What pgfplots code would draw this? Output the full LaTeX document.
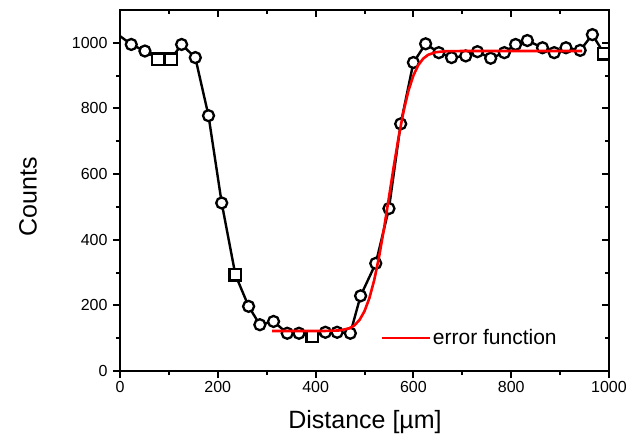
\documentclass[border=0pt]{standalone}
\usepackage{fontspec}
\setmainfont{Liberation Sans}
\usepackage{pgfplots}
\pgfplotsset{compat=1.18}
\begin{document}
\begin{tikzpicture}
\useasboundingbox (-120bp,-65bp) rectangle (519bp,371bp);
\pgfplotsset{
  common/.style={
    scale only axis, width=489bp, height=361bp,
    xmin=0, xmax=1000, ymin=0, ymax=1100,
    xtick={0,200,...,1000}, ytick={0,200,...,1000},
    minor xtick={100,300,...,900}, minor ytick={100,300,...,900},
    major tick length=7bp, minor tick length=4bp,
    tick style={black, line width=2bp},
    axis line style={line width=2.8bp},
    /pgf/number format/assume math mode=true,
    /pgf/number format/1000 sep={},
    tick label style={font=\fontsize{16bp}{19bp}\selectfont},
  }
}
\begin{axis}[common,
  xtick pos=bottom, ytick pos=left, tick align=outside,
  clip marker paths=true,
  yticklabel style={xshift=-2bp},
  xlabel={Distance [µm]}, ylabel={Counts},
  label style={font=\fontsize{25bp}{30bp}\selectfont},
  xlabel style={at={(axis description cs:0.501,-0.14)}, anchor=center},
  ylabel style={at={(axis description cs:-0.188,0.482)}, anchor=center},
  legend style={draw=none, fill=none, at={(axis description cs:0.532,0.0914)}, anchor=west,
    font=\fontsize{21bp}{24bp}\selectfont, inner sep=0pt},
  legend image code/.code={\draw[#1] (0bp,0bp) -- (48bp,0bp);},
]
\addplot[black, line width=2.4bp, forget plot] coordinates {
(-4,1025) (23,995) (51,975) (78,950) (104,950) (126,995) (154,955) (181,778)
(208,512) (236,293) (263,197) (286,141) (314,151) (342,115) (366,115) (393,105)
(420,118) (444,118) (471,115) (492,229) (523,328) (550,495) (574,753) (600,940)
(625,997) (652,970) (678,955) (707,960) (731,973) (758,953) (786,970) (809,995)
(833,1007) (864,985) (888,970) (912,985) (941,977) (966,1025) (990,967)
};
\addplot[only marks, mark=*, mark size=5.5bp, mark options={draw=black, fill=white, line width=2.3bp}, forget plot] coordinates {
(-4,1025) (23,995) (51,975) (126,995) (154,955) (181,778)
(208,512) (263,197) (286,141) (314,151) (342,115) (366,115)
(420,118) (444,118) (471,115) (492,229) (523,328) (550,495) (574,753) (600,940)
(625,997) (652,970) (678,955) (707,960) (731,973) (758,953) (786,970) (809,995)
(833,1007) (864,985) (888,970) (912,985) (941,977) (966,1025)
};
\addplot[only marks, mark=square*, mark size=5.8bp, mark options={draw=black, fill=white, line width=2.3bp}, forget plot] coordinates {
(78,950) (104,950) (236,293) (393,105) (990,967)
};
\addplot[red, line width=2.6bp] coordinates {
(311,122) (420,122) (450,123.7) (470,130.5) (480,139.8) (490,156) (500,182.3)
(510,222.2) (520,277.8) (530,349.7) (540,435.1) (550,529.2) (560,624.8)
(570,714.6) (580,792.3) (590,854.6) (600,900.5) (610,932) (620,951.8)
(630,963.3) (645,971.2) (665,974.4) (700,975) (945,975)
};
\addlegendentry{error function}
\end{axis}
\begin{axis}[common,
  xtick pos=top, ytick pos=right, tick align=inside,
  xticklabels={}, yticklabels={},
]
\end{axis}
\end{tikzpicture}
\end{document}
